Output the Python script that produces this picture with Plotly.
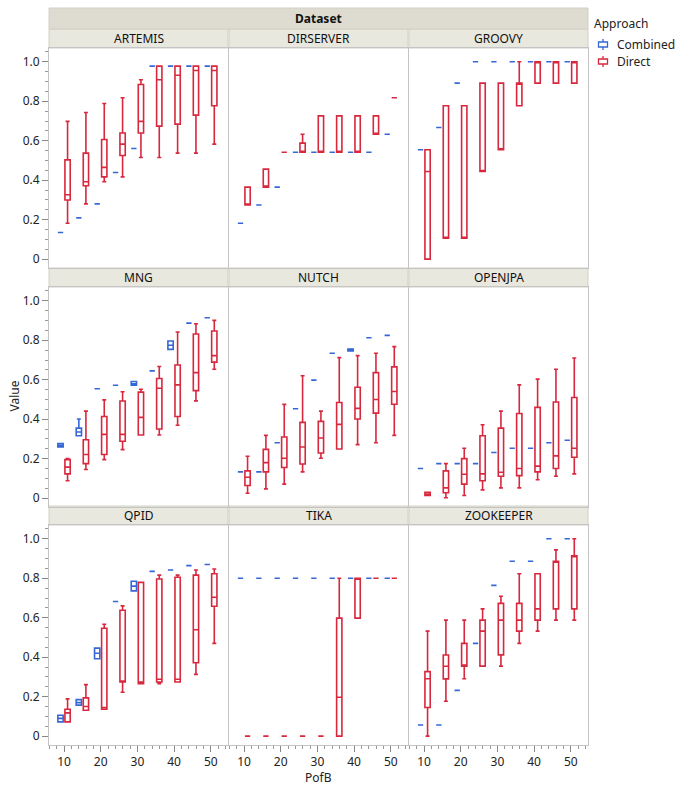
import plotly.graph_objects as go

W, H = 685, 791

POFB = [10, 15, 20, 25, 30, 35, 40, 45, 50]
DATASETS = ["ARTEMIS", "DIRSERVER", "GROOVY", "MNG", "NUTCH", "OPENJPA", "QPID", "TIKA", "ZOOKEEPER"]
APPROACHES = ["Combined", "Direct"]
Y_TICK_VALUES = [0, 0.2, 0.4, 0.6, 0.8, 1.0]
Y_TICK_TEXT = ["0", "0.2", "0.4", "0.6", "0.8", "1.0"]
X_TICK_VALUES = [10, 20, 30, 40, 50]

# Combined: single value, or [low whisker, q1, median, q3, high whisker]
# Direct:  [low whisker, q1, median, q3, high whisker]
ARTEMIS_COMBINED = [0.135, 0.209, 0.280, 0.439, 0.561, 0.978, 0.978, 0.978, 0.978]
ARTEMIS_DIRECT = [
    [0.182, 0.300, 0.326, 0.503, 0.698],
    [0.280, 0.372, 0.392, 0.537, 0.743],
    [0.392, 0.417, 0.465, 0.606, 0.789],
    [0.417, 0.525, 0.583, 0.639, 0.818],
    [0.515, 0.639, 0.698, 0.885, 0.909],
    [0.515, 0.674, 0.909, 0.978, 0.978],
    [0.537, 0.684, 0.932, 0.978, 0.978],
    [0.537, 0.730, 0.956, 0.978, 0.978],
    [0.583, 0.777, 0.956, 0.978, 0.978],
]

DIRSERVER_COMBINED = [0.182, 0.274, 0.365, 0.542, 0.542, 0.542, 0.542, 0.542, 0.633]
DIRSERVER_DIRECT = [
    [0.274, 0.274, 0.274, 0.365, 0.365],
    [0.365, 0.365, 0.365, 0.456, 0.456],
    [0.542, 0.542, 0.542, 0.542, 0.542],
    [0.542, 0.542, 0.542, 0.588, 0.633],
    [0.542, 0.542, 0.542, 0.726, 0.726],
    [0.542, 0.542, 0.542, 0.726, 0.726],
    [0.542, 0.542, 0.542, 0.726, 0.726],
    [0.633, 0.633, 0.633, 0.726, 0.726],
    [0.818, 0.818, 0.818, 0.818, 0.818],
]

GROOVY_COMBINED = [0.554, 0.667, 0.892, 1.0, 1.0, 1.0, 1.0, 1.0, 1.0]
GROOVY_DIRECT = [
    [0.000, 0.000, 0.444, 0.554, 0.554],
    [0.106, 0.106, 0.106, 0.777, 0.777],
    [0.106, 0.106, 0.106, 0.777, 0.777],
    [0.444, 0.444, 0.444, 0.892, 0.892],
    [0.554, 0.554, 0.554, 0.892, 0.892],
    [0.777, 0.777, 0.892, 0.892, 1.000],
    [0.892, 0.892, 1.000, 1.000, 1.000],
    [0.892, 0.892, 1.000, 1.000, 1.000],
    [0.892, 0.892, 1.000, 1.000, 1.000],
]

MNG_COMBINED = [
    [0.259, 0.259, 0.267, 0.276, 0.276],
    [0.316, 0.316, 0.335, 0.355, 0.401],
    0.554,
    0.572,
    [0.572, 0.572, 0.580, 0.591, 0.591],
    0.645,
    [0.754, 0.754, 0.775, 0.796, 0.796],
    0.887,
    0.914,
]
MNG_DIRECT = [
    [0.088, 0.123, 0.157, 0.195, 0.200],
    [0.145, 0.175, 0.221, 0.296, 0.441],
    [0.195, 0.221, 0.323, 0.414, 0.498],
    [0.246, 0.288, 0.323, 0.492, 0.539],
    [0.320, 0.320, 0.409, 0.537, 0.552],
    [0.320, 0.350, 0.557, 0.606, 0.667],
    [0.369, 0.414, 0.574, 0.675, 0.842],
    [0.493, 0.545, 0.636, 0.832, 0.884],
    [0.653, 0.689, 0.722, 0.847, 0.901],
]

NUTCH_COMBINED = [0.133, 0.133, 0.281, 0.453, 0.598, 0.734,
                  [0.746, 0.746, 0.751, 0.756, 0.756], 0.813, 0.825]
NUTCH_DIRECT = [
    [0.025, 0.064, 0.106, 0.138, 0.212],
    [0.047, 0.133, 0.180, 0.247, 0.318],
    [0.071, 0.155, 0.202, 0.310, 0.475],
    [0.133, 0.173, 0.259, 0.384, 0.620],
    [0.202, 0.229, 0.305, 0.389, 0.441],
    [0.249, 0.249, 0.374, 0.485, 0.712],
    [0.271, 0.401, 0.455, 0.562, 0.722],
    [0.281, 0.431, 0.500, 0.636, 0.734],
    [0.318, 0.476, 0.540, 0.665, 0.768],
]

OPENJPA_COMBINED = [0.150, 0.175, 0.175, 0.175, 0.231, 0.253, 0.253, 0.281, 0.293]
OPENJPA_DIRECT = [
    [0.013, 0.013, 0.020, 0.030, 0.030],
    [0.002, 0.027, 0.052, 0.138, 0.175],
    [0.013, 0.071, 0.121, 0.200, 0.253],
    [0.042, 0.088, 0.123, 0.316, 0.372],
    [0.052, 0.111, 0.131, 0.355, 0.441],
    [0.052, 0.114, 0.150, 0.429, 0.574],
    [0.093, 0.133, 0.162, 0.460, 0.603],
    [0.111, 0.150, 0.214, 0.487, 0.653],
    [0.123, 0.207, 0.253, 0.510, 0.710],
]

QPID_COMBINED = [
    [0.072, 0.072, 0.090, 0.106, 0.106],
    [0.157, 0.157, 0.170, 0.185, 0.185],
    [0.392, 0.392, 0.420, 0.446, 0.446],
    0.682,
    [0.736, 0.736, 0.760, 0.785, 0.785],
    0.835,
    0.842,
    0.864,
    0.870,
]
QPID_DIRECT = [
    [0.072, 0.072, 0.118, 0.136, 0.189],
    [0.131, 0.131, 0.150, 0.194, 0.261],
    [0.136, 0.136, 0.145, 0.547, 0.567],
    [0.222, 0.274, 0.274, 0.638, 0.660],
    [0.266, 0.266, 0.274, 0.779, 0.779],
    [0.266, 0.274, 0.288, 0.796, 0.816],
    [0.274, 0.274, 0.288, 0.805, 0.816],
    [0.313, 0.372, 0.539, 0.816, 0.842],
    [0.470, 0.658, 0.704, 0.823, 0.847],
]

TIKA_COMBINED = [0.80, 0.80, 0.80, 0.80, 0.80, 0.80, 0.80, 0.80, 0.80]
TIKA_DIRECT = [
    [0.000, 0.000, 0.000, 0.000, 0.000],
    [0.000, 0.000, 0.000, 0.000, 0.000],
    [0.000, 0.000, 0.000, 0.000, 0.000],
    [0.000, 0.000, 0.000, 0.000, 0.000],
    [0.000, 0.000, 0.000, 0.000, 0.000],
    [0.000, 0.000, 0.197, 0.598, 0.800],
    [0.598, 0.598, 0.800, 0.800, 0.800],
    [0.800, 0.800, 0.800, 0.800, 0.800],
    [0.800, 0.800, 0.800, 0.800, 0.800],
]

ZOOKEEPER_COMBINED = [0.056, 0.056, 0.232, 0.470, 0.764, 0.886, 0.886, 1.0, 1.0]
ZOOKEEPER_DIRECT = [
    [0.000, 0.145, 0.291, 0.327, 0.532],
    [0.177, 0.290, 0.354, 0.411, 0.588],
    [0.291, 0.355, 0.355, 0.470, 0.588],
    [0.355, 0.355, 0.532, 0.588, 0.645],
    [0.355, 0.412, 0.588, 0.673, 0.709],
    [0.470, 0.532, 0.588, 0.673, 0.823],
    [0.532, 0.588, 0.645, 0.823, 0.823],
    [0.588, 0.645, 0.886, 0.886, 0.944],
    [0.588, 0.645, 0.914, 0.914, 1.000],
]

COMBINED = [ARTEMIS_COMBINED, DIRSERVER_COMBINED, GROOVY_COMBINED, MNG_COMBINED, NUTCH_COMBINED,
            OPENJPA_COMBINED, QPID_COMBINED, TIKA_COMBINED, ZOOKEEPER_COMBINED]
DIRECT = [ARTEMIS_DIRECT, DIRSERVER_DIRECT, GROOVY_DIRECT, MNG_DIRECT, NUTCH_DIRECT,
          OPENJPA_DIRECT, QPID_DIRECT, TIKA_DIRECT, ZOOKEEPER_DIRECT]

BLUE = "#3567D6"
RED = "#D8283E"
COLORS = [BLUE, RED]
FONT = "Segoe UI, Noto Sans, Open Sans, sans-serif"


def unpack(rows):
    cols = [[], [], [], [], []]
    for r in rows:
        vals = [r] * 5 if isinstance(r, (int, float)) else r
        for k in range(5):
            cols[k].append(vals[k])
    return cols


# pixel layout (reference image pixels)
COLS = [(49, 228), (229, 408), (409, 588)]
ROWS = [(48, 268), (287, 507), (525, 745)]
HEADERS = [(29, 48), (268, 287), (506, 525)]


def px(x):
    return x / W


def py(y):
    return 1 - y / H


fig = go.Figure()

for i, name in enumerate(DATASETS):
    sfx = "" if i == 0 else str(i + 1)
    for label, rows, color, og in [("Combined", COMBINED[i], BLUE, "C"), ("Direct", DIRECT[i], RED, "D")]:
        lo, q1, med, q3, hi = unpack(rows)
        fig.add_trace(go.Box(
            x=POFB, lowerfence=lo, q1=q1, median=med, q3=q3, upperfence=hi,
            name=label, legendgroup=label, showlegend=False, offsetgroup=og,
            line=dict(color=color, width=1.6), fillcolor="rgba(255,255,255,0)",
            marker=dict(color=color), whiskerwidth=0.75, boxpoints=False,
            xaxis="x" + sfx, yaxis="y" + sfx,
        ))

layout = dict(
    width=W, height=H, margin=dict(l=0, r=0, t=0, b=0),
    paper_bgcolor="white", plot_bgcolor="white",
    boxmode="group", boxgap=0.23, boxgroupgap=0.25,
    font=dict(family=FONT, size=12, color="#222222"),
    showlegend=False,
    shapes=[], annotations=[],
)

for i, name in enumerate(DATASETS):
    r, c = divmod(i, 3)
    sfx = "" if i == 0 else str(i + 1)
    x0, x1 = COLS[c]
    y0, y1 = ROWS[r]
    layout["xaxis" + sfx] = dict(
        domain=[px(x0), px(x1)], range=[5.9, 54.7], anchor="y" + sfx,
        showline=True, mirror=True, linecolor="#C4C4C4", linewidth=1,
        showgrid=False, zeroline=False,
        tickmode="array", tickvals=X_TICK_VALUES,
        ticks="outside" if r == 2 else "", showticklabels=(r == 2),
        ticklen=6, tickcolor="#888888",
        minor=dict(tickmode="linear", tick0=0, dtick=2, ticks="outside" if r == 2 else "",
                   ticklen=3, tickcolor="#999999"),
        tickfont=dict(size=12),
    )
    layout["yaxis" + sfx] = dict(
        domain=[py(y1), py(y0)], range=[-0.045, 1.07], anchor="x" + sfx,
        showline=True, mirror=True, linecolor="#C4C4C4", linewidth=1,
        showgrid=False, zeroline=False,
        tickmode="array", tickvals=Y_TICK_VALUES, ticktext=Y_TICK_TEXT,
        ticks="outside" if c == 0 else "", showticklabels=(c == 0),
        ticklen=6, tickcolor="#888888",
        minor=dict(tickmode="linear", tick0=0, dtick=0.05, ticks="outside" if c == 0 else "",
                   ticklen=3, tickcolor="#999999"),
        tickfont=dict(size=12),
    )
    hy0, hy1 = HEADERS[r]
    layout["shapes"].append(dict(type="rect", xref="paper", yref="paper",
                                 x0=px(x0), x1=px(x1), y0=py(hy1), y1=py(hy0),
                                 fillcolor="#E9E8DF", line=dict(color="#D2D0C4", width=1), layer="below"))
    layout["annotations"].append(dict(text=name, xref="paper", yref="paper",
                                      x=px((x0 + x1) / 2), y=py((hy0 + hy1) / 2),
                                      xanchor="center", yanchor="middle", showarrow=False,
                                      font=dict(size=12, color="#111111")))

# Dataset band
layout["shapes"].append(dict(type="rect", xref="paper", yref="paper",
                             x0=px(49), x1=px(588), y0=py(29), y1=py(8),
                             fillcolor="#DEDCD0", line=dict(color="#D2D0C4", width=1), layer="below"))
layout["annotations"].append(dict(text="<b>Dataset</b>", xref="paper", yref="paper",
                                  x=px(318), y=py(18.5), xanchor="center", yanchor="middle",
                                  showarrow=False, font=dict(size=12, color="#111111")))
layout["annotations"].append(dict(text="PofB", xref="paper", yref="paper",
                                  x=px(318), y=py(777), xanchor="center", yanchor="middle",
                                  showarrow=False, font=dict(size=12, color="#222222")))
layout["annotations"].append(dict(text="Value", xref="paper", yref="paper",
                                  x=px(3), y=py(396), xanchor="left", yanchor="middle",
                                  textangle=-90, showarrow=False, font=dict(size=12, color="#222222")))

# Legend (drawn manually to match the compact JMP legend)
layout["annotations"].append(dict(text="Approach", xref="paper", yref="paper",
                                  x=px(592), y=py(23), xanchor="left", yanchor="middle",
                                  showarrow=False, font=dict(size=12, color="#222222")))
for k, (lab, col) in enumerate(zip(APPROACHES, COLORS)):
    cy = 44.5 + 17 * k
    layout["shapes"].append(dict(type="rect", xref="paper", yref="paper",
                                 x0=px(598.5), x1=px(607.5), y0=py(cy + 2.5), y1=py(cy - 2.5),
                                 line=dict(color=col, width=1.3), fillcolor="white"))
    layout["shapes"].append(dict(type="line", xref="paper", yref="paper",
                                 x0=px(603), x1=px(603), y0=py(cy - 5.5), y1=py(cy - 2.5),
                                 line=dict(color=col, width=1.3)))
    layout["shapes"].append(dict(type="line", xref="paper", yref="paper",
                                 x0=px(603), x1=px(603), y0=py(cy + 2.5), y1=py(cy + 5.5),
                                 line=dict(color=col, width=1.3)))
    layout["annotations"].append(dict(text=lab, xref="paper", yref="paper",
                                      x=px(615), y=py(cy), xanchor="left", yanchor="middle",
                                      showarrow=False, font=dict(size=12, color="#222222")))

fig.update_layout(**layout)
# remove the browser's default 8px body margin so the figure fills the window exactly
fig.write_html("out.html", config={"displayModeBar": False},
               post_script="document.body.style.margin='0';document.body.style.overflow='hidden';")
